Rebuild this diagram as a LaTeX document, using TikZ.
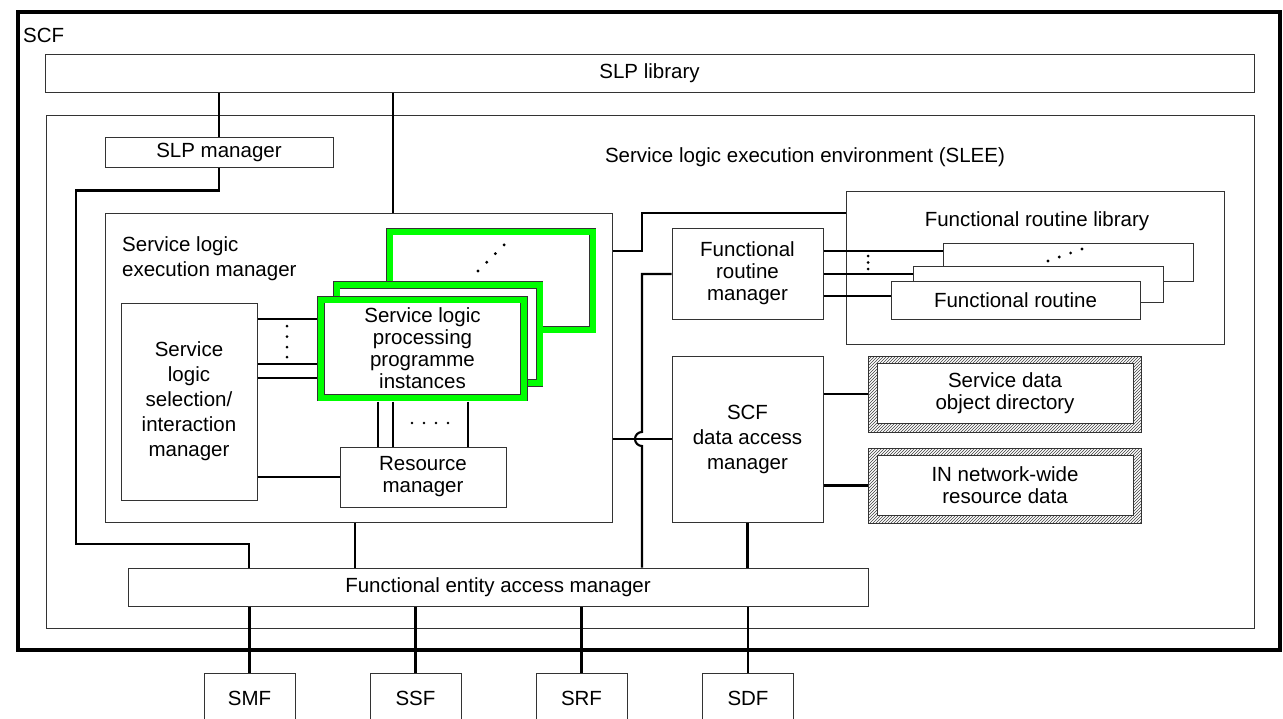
\documentclass[tikz,border=0pt]{standalone}
\usepackage{fontspec}
\setmainfont{Liberation Sans}
\usetikzlibrary{patterns}
\begin{document}
\begin{tikzpicture}[x=1pt,y=-1pt,
  every node/.style={font=\fontsize{20.5}{25}\selectfont,inner sep=0pt},
  tight/.style={font=\fontsize{20.5}{22}\selectfont},
  box/.style={draw=black!80,line width=1pt,fill=white,align=center},
  hatch/.style={draw=black!80,line width=1pt,pattern=north east lines,pattern color=black!75},
  slpibox/.style={draw=black!80,line width=0.9pt,double=green,double distance=6pt,fill=white,
    minimum width=203pt,minimum height=98pt,outer sep=4pt,align=center},
  wire/.style={line width=2.1pt}]
\useasboundingbox (0,0) rectangle (1283,718);
\clip (0,0) rectangle (1283,718);
\fill[white] (0,0) rectangle (1283,718);
\draw[line width=4pt] (17.5,11.5) rectangle (1280,650);
\node[anchor=west] (scf) at (23,35) {SCF};
\node[box,minimum width=1209pt,minimum height=38pt] (slplib) at (649.5,73) {SLP library};
\draw[draw=black!80,line width=1pt] (46,115) rectangle (1254,628);
\node (slee) at (805,157) {Service logic execution environment (SLEE)};
\node[box,minimum width=228pt,minimum height=30pt] (slpm) at (219,152) {SLP manager};
\node[box,minimum width=507pt,minimum height=309pt] (slem) at (358.5,367.5) {};
\node[anchor=west,align=left] (slemlabel) at (122,258.5) {Service logic\\execution manager};
\node[box,minimum width=136pt,minimum height=197pt] (slsim) at (189,401.5) {Service\\logic\\selection/\\interaction\\manager};
\node[slpibox] (slpi3) at (491,280.5) {};
\node[slpibox] (slpi2) at (438,334) {};
\node[slpibox,tight] (slpi) at (422.5,348.5) {Service logic\\processing\\programme\\instances};
\foreach \i in {0,...,3} \fill ({478+8.7*\i},{271-8.7*\i}) circle (1.6);
\node[box,tight,minimum width=166pt,minimum height=60pt] (rm) at (423,477) {Resource\\manager};
\node[box,minimum width=378pt,minimum height=153pt] (frl) at (1035,267.5) {};
\node (frllabel) at (1037,221) {Functional routine library};
\node[box,minimum width=250pt,minimum height=38pt] (fr3) at (1068,262) {};
\node[box,minimum width=250pt,minimum height=36pt] (fr2) at (1038,284) {};
\node[box,minimum width=249pt,minimum height=38pt] (fr1) at (1015.5,300) {Functional routine};
\foreach \i in {0,...,3} \fill ({1048+11.3*\i},{261-4*\i}) circle (1.6);
\node[box,tight,minimum width=151pt,minimum height=91pt] (frm) at (747.5,273.5) {Functional\\routine\\manager};
\node[box,minimum width=151pt,minimum height=166pt] (sdam) at (747.5,439) {SCF\\data access\\manager};
\node[hatch,minimum width=273pt,minimum height=76pt] (sdodf) at (1004.5,394) {};
\node[box,tight,minimum width=256pt,minimum height=60pt] (sdod) at (1005,393) {Service data\\object directory};
\node[hatch,minimum width=273pt,minimum height=75pt] (inrdf) at (1004.5,485.5) {};
\node[box,tight,minimum width=256pt,minimum height=60pt] (inrd) at (1005,485) {IN network-wide\\resource data};
\node[box,minimum width=740pt,minimum height=38pt] (feam) at (498,587) {Functional entity access manager};
\foreach \n/\t/\x in {smf/SMF/249.5,ssf/SSF/415.5,srf/SRF/581.5,sdf/SDF/748}
  \node[box,minimum width=91pt,minimum height=50pt] (\n) at (\x,698) {\t};
\draw[wire] (slpm.north) -- (slpm.north |- slplib.south);
\draw[wire] (393,0 |- slplib.south) -- (393,0 |- slem.north);
\draw[wire] (slpm.south) -- ++(0,23) -| (76,544) -| (feam.north -| 249,0);
\draw[wire] (355,0 |- slem.south) -- (355,0 |- feam.north);
\draw[wire] (slem.east |- 0,251) -- (642,251) |- (frl.west |- 0,213);
\draw[wire] (feam.north -| 642,0) -- (642,446) arc[start angle=90,end angle=270,radius=7] -- (642,274) -- (frm.west |- 0,274);
\draw[wire] (slem.east |- sdam.west) -- (sdam.west);
\draw[wire] (frm.east |- 0,251) -- (fr3.west |- 0,251);
\draw[wire] (frm.east |- 0,274) -- (fr2.west |- 0,274);
\draw[wire] (frm.east |- 0,296) -- (fr1.west |- 0,296);
\foreach \y in {256,262.5,269} \fill (868,\y) circle (1.5);
\draw[wire] (sdam.east |- sdodf.west) -- (sdodf.west);
\draw[wire] (sdam.east |- inrdf.west) -- (inrdf.west);
\draw[wire] (sdam.south) -- (sdam.south |- feam.north);
\foreach \y in {319,364,378} \draw[wire] (slsim.east |- 0,\y) -- (slpi.west |- 0,\y);
\foreach \y in {326,336.5,347,357} \fill (287,\y) circle (1.5);
\draw[wire] (slsim.east |- rm.west) -- (rm.west);
\foreach \x in {378,393,468} \draw[wire] (\x,0 |- slpi.south) -- (\x,0 |- rm.north);
\foreach \x in {412,424,436,448} \fill (\x,423) circle (1.4);
\foreach \n in {smf,ssf,srf,sdf} \draw[wire] (\n.north) -- (\n.north |- feam.south);
\end{tikzpicture}
\end{document}
